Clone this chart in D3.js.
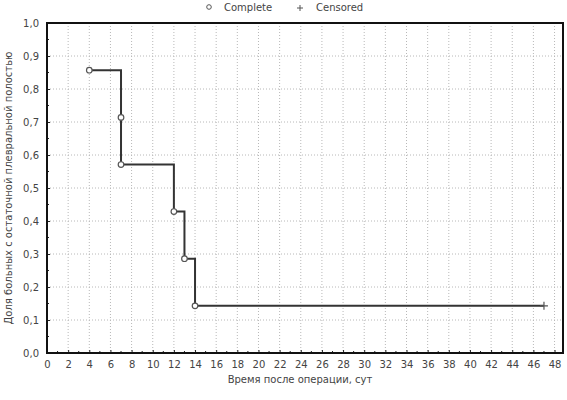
<!DOCTYPE html>
<html>
<head>
<meta charset="utf-8">
<script src="https://cdn.jsdelivr.net/npm/d3@7"></script>
<style>
  body { margin: 0; background: #fff; }
  text { font-family: "DejaVu Sans", sans-serif; fill: #444; }
</style>
</head>
<body>
<svg id="chart" width="567" height="400"></svg>
<script>
// данные Каплана-Мейера
const stepTimes = [4, 7, 12, 13, 14];
const survival = [0.857, 0.571, 0.4286, 0.2857, 0.1429];
const completeTimes = [4, 7, 7, 12, 13, 14];
const completeValues = [0.857, 0.714, 0.571, 0.4286, 0.2857, 0.1429];
const censoredTimes = [47];
const censoredValues = [0.1429];
const xTicks = d3.range(0, 49, 2);
const yTicks = d3.range(0, 11).map(d => d / 10);

const svg = d3.select('#chart');
const margin = { top: 23, right: 4, bottom: 47, left: 47 };
const width = 567 - margin.left - margin.right;
const height = 400 - margin.top - margin.bottom;

const x = d3.scaleLinear().domain([0, 48.8]).range([0, width]);
const y = d3.scaleLinear().domain([0, 1]).range([height, 0]);

const g = svg.append('g').attr('transform', `translate(${margin.left},${margin.top})`);

// сетка
g.selectAll('.gx').data(xTicks.slice(1))
  .enter().append('line')
  .attr('x1', d => x(d)).attr('x2', d => x(d))
  .attr('y1', 0).attr('y2', height)
  .attr('stroke', '#b8b8b8').attr('stroke-dasharray', '1,2');
g.selectAll('.gy').data(yTicks.slice(1, -1))
  .enter().append('line')
  .attr('x1', 0).attr('x2', width)
  .attr('y1', d => y(d)).attr('y2', d => y(d))
  .attr('stroke', '#b8b8b8').attr('stroke-dasharray', '1,2');

// оси
const xAxis = d3.axisBottom(x).tickValues(xTicks).tickSize(-3).tickPadding(8).tickFormat(d3.format('d'));
const yAxis = d3.axisLeft(y).tickValues(yTicks).tickSize(-3).tickPadding(8).tickFormat(d => d.toFixed(1).replace('.', ','));

const gx = g.append('g').attr('transform', `translate(0,${height})`).call(xAxis);
const gy = g.append('g').call(yAxis);
[gx, gy].forEach(a => {
  a.select('.domain').remove();
  a.selectAll('line').attr('stroke', '#222');
  a.selectAll('text').style('font-size', '10px').attr('fill', '#555');
});

// мелкие деления
g.selectAll('.mx').data(d3.range(1, 49, 2))
  .enter().append('line')
  .attr('x1', d => x(d)).attr('x2', d => x(d))
  .attr('y1', height).attr('y2', height - 2)
  .attr('stroke', '#222');
g.selectAll('.my').data(d3.range(0.05, 1, 0.1))
  .enter().append('line')
  .attr('x1', 0).attr('x2', 2)
  .attr('y1', d => y(d)).attr('y2', d => y(d))
  .attr('stroke', '#222');

// рамка
g.append('rect')
  .attr('width', width).attr('height', height)
  .attr('fill', 'none').attr('stroke', '#111').attr('stroke-width', 2);

// ступенчатая кривая
const pts = stepTimes.map((t, i) => [t, survival[i]]);
pts.push([censoredTimes[0], censoredValues[0]]);
const line = d3.line().x(d => x(d[0])).y(d => y(d[1])).curve(d3.curveStepAfter);
g.append('path')
  .attr('d', line(pts))
  .attr('fill', 'none').attr('stroke', '#333').attr('stroke-width', 2);

g.selectAll('.pt').data(completeTimes)
  .enter().append('circle')
  .attr('cx', d => x(d))
  .attr('cy', (d, i) => y(completeValues[i]))
  .attr('r', 2.8)
  .attr('fill', '#fff').attr('stroke', '#555').attr('stroke-width', 1.2);

censoredTimes.forEach((t, i) => {
  const cx = x(t), cy = y(censoredValues[i]);
  g.append('path')
    .attr('d', `M${cx - 4},${cy}H${cx + 4}M${cx},${cy - 4}V${cy + 4}`)
    .attr('stroke', '#555').attr('stroke-width', 1.2);
});

// легенда
svg.append('circle').attr('cx', 209).attr('cy', 7).attr('r', 2.3)
  .attr('fill', '#fff').attr('stroke', '#555');
svg.append('text').attr('x', 224).attr('y', 11).style('font-size', '10px').text('Complete');
svg.append('path').attr('d', 'M297,8H303M300,5V11').attr('stroke', '#555');
svg.append('text').attr('x', 316).attr('y', 11).style('font-size', '10px').text('Censored');

// подписи осей
svg.append('text')
  .attr('x', margin.left + width / 2 - 5).attr('y', 383)
  .attr('text-anchor', 'middle').style('font-size', '10px')
  .text('Время после операции, сут');
svg.append('text')
  .attr('transform', `translate(12,${margin.top + height / 2}) rotate(-90)`)
  .attr('text-anchor', 'middle').style('font-size', '10px')
  .text('Доля больных с остаточной плевральной полостью');
</script>
</body>
</html>
